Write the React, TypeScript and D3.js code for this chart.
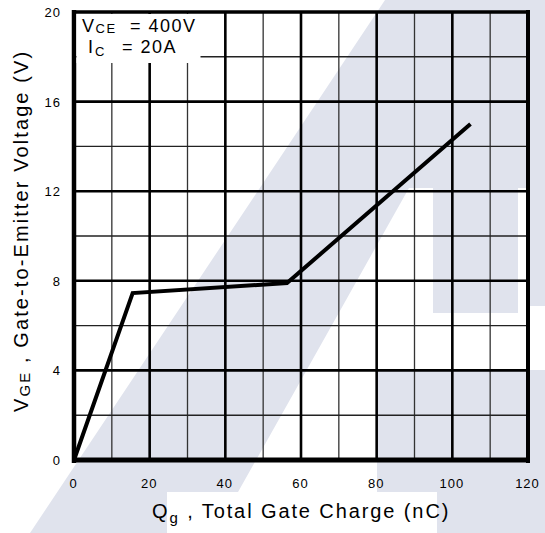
import React from "react";
import * as d3 from "d3";

// Data (Qg in nC, VGE in V)
const qg = [0, 15.5, 56.3, 104.8];
const vge = [0, 7.45, 7.9, 15.0];

const xMajor = [0, 20, 40, 60, 80, 100, 120];
const xMinor = [10, 30, 50, 70, 90, 110];
const yMajor = [0, 4, 8, 12, 16, 20];
const yMinor = [2, 6, 10, 14, 18];
const xTickLabels = ["0", "20", "40", "60", "80", "100", "120"];
const yTickLabels = ["0", "4", "8", "12", "16", "20"];

// Decorative background watermark (pixel polygons)
const WM_COLOR = "#e0e3ed";
const watermarkPolys: [number, number][][] = [
  [[385, 0], [545, 0], [545, 188], [409, 188], [215, 533], [30, 533]],
  [[433, 188], [518, 188], [518, 313], [433, 313]],
  [[529, 188], [545, 188], [545, 306], [529, 306]],
  [[377, 370], [545, 370], [545, 533], [377, 533]],
];

const FONT = "'Liberation Sans', Arial, Helvetica, sans-serif";

export default function App() {
  const W = 545, H = 533;
  const x = d3.scaleLinear().domain([0, 120]).range([74, 528]);
  const y = d3.scaleLinear().domain([0, 20]).range([460, 12]);
  const pts: [number, number][] = qg.map((q, i) => [q, vge[i]]);
  const line = d3.line<[number, number]>().x(d => x(d[0])).y(d => y(d[1]));

  return (
    <svg width={W} height={H} style={{ position: "absolute", left: 0, top: 0, background: "#fff" }} fontFamily={FONT}>
      <rect x={0} y={0} width={W} height={H} fill="#fff" />
      {watermarkPolys.map((p, i) => (
        <polygon key={i} points={p.map(d => d.join(",")).join(" ")} fill={WM_COLOR} />
      ))}
      {/* white box behind x-axis title */}
      <rect x={167} y={492} width={270} height={41} fill="#fff" />

      {/* grid */}
      {xMinor.map(v => (
        <line key={"xm" + v} x1={x(v)} x2={x(v)} y1={y(0)} y2={y(20)} stroke="#333" strokeWidth={1.3} />
      ))}
      {yMinor.map(v => (
        <line key={"ym" + v} y1={y(v)} y2={y(v)} x1={x(0)} x2={x(120)} stroke="#222" strokeWidth={1.4} />
      ))}
      {xMajor.slice(1, -1).map(v => (
        <line key={"xM" + v} x1={x(v)} x2={x(v)} y1={y(0)} y2={y(20)} stroke="#000" strokeWidth={2.6} />
      ))}
      {yMajor.slice(1, -1).map(v => (
        <line key={"yM" + v} y1={y(v)} y2={y(v)} x1={x(0)} x2={x(120)} stroke="#000" strokeWidth={2.6} />
      ))}

      {/* frame */}
      <line x1={x(0)} x2={x(0)} y1={y(20) - 2} y2={y(0) + 3} stroke="#000" strokeWidth={4.5} />
      <line x1={x(120)} x2={x(120)} y1={y(20) - 2} y2={y(0) + 3} stroke="#000" strokeWidth={4} />
      <line x1={x(0) - 2} x2={x(120) + 2} y1={y(20)} y2={y(20)} stroke="#000" strokeWidth={3.5} />
      <line x1={x(0) - 2} x2={x(120) + 2} y1={y(0)} y2={y(0)} stroke="#000" strokeWidth={5} />

      {/* curve */}
      <path d={line(pts) || ""} fill="none" stroke="#000" strokeWidth={4} strokeLinejoin="miter" />

      {/* legend box */}
      <rect x={x(0) + 2.5} y={y(20) + 2} width={124} height={49} fill="#fff" />
      <g fontSize={18} fill="#000" letterSpacing={1.5}>
        <text x={82} y={32}>V<tspan fontSize={13} dy={1}>CE</tspan><tspan x={130} dy={-1}>= 400V</tspan></text>
        <text x={88} y={53}>I<tspan fontSize={13} dy={3} x={95}>C</tspan><tspan x={122} dy={-3}>= 20A</tspan></text>
      </g>

      {/* x tick labels */}
      <g fontSize={13} fill="#000" textAnchor="middle" letterSpacing={1}>
        {xMajor.map((v, i) => (
          <text key={"xt" + v} x={x(v) - 0.5} y={488}>{xTickLabels[i]}</text>
        ))}
      </g>
      {/* y tick labels */}
      <g fontSize={13} fill="#000" textAnchor="end" letterSpacing={1}>
        {yMajor.map((v, i) => (
          <text key={"yt" + v} x={61} y={y(v) + 5}>{yTickLabels[i]}</text>
        ))}
      </g>

      {/* x axis title */}
      <text x={152} y={518} fontSize={20} letterSpacing={1.9} fill="#000">
        Q<tspan fontSize={15} dy={5}>g</tspan><tspan dy={-5}> , Total Gate Charge (nC)</tspan>
      </text>

      {/* y axis title */}
      <text transform="translate(28,412) rotate(-90)" fontSize={20} letterSpacing={2.1} fill="#000">
        V<tspan fontSize={15} dy={2}>GE</tspan><tspan dy={-2}> , Gate-to-Emitter Voltage (V)</tspan>
      </text>
    </svg>
  );
}
